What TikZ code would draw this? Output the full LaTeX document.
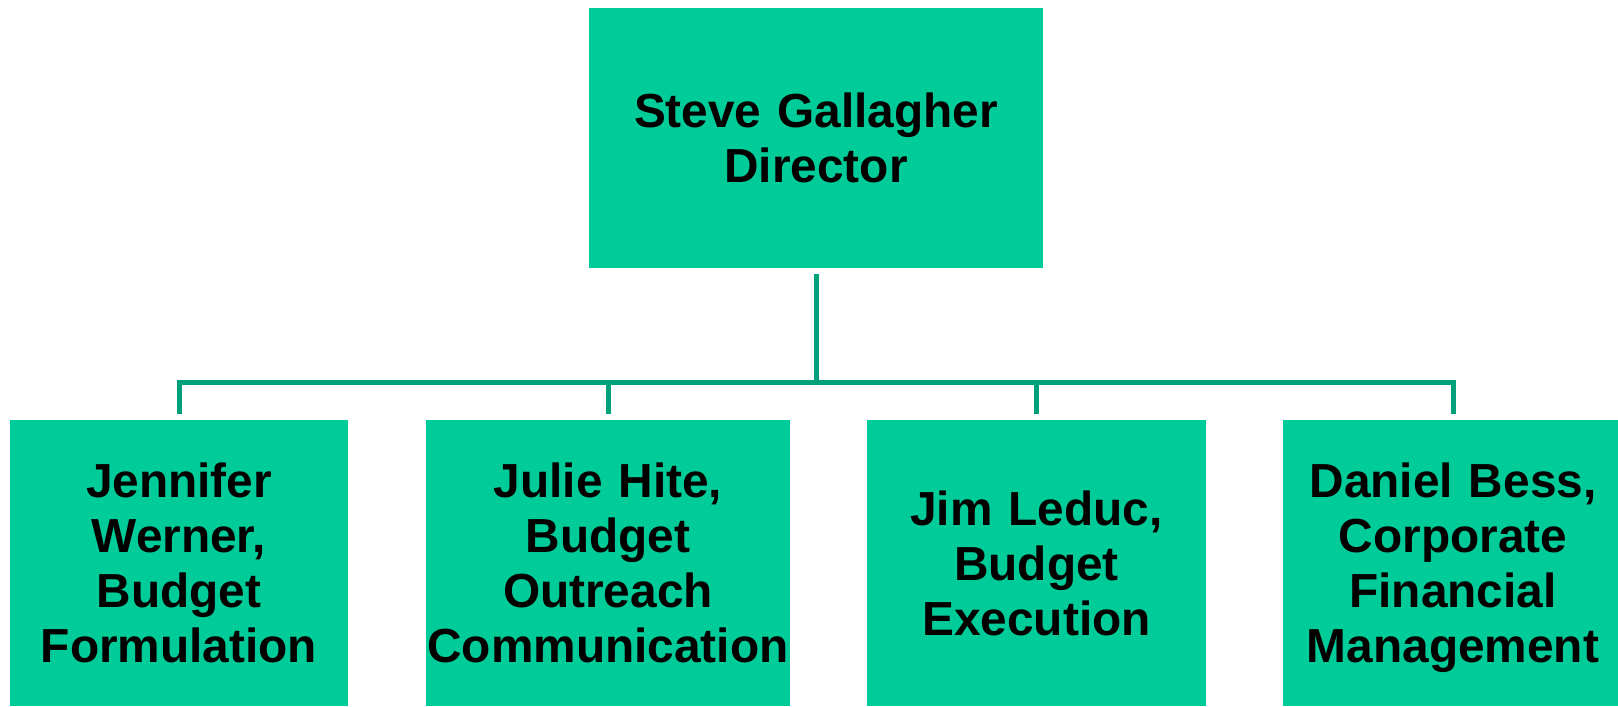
\documentclass[tikz,border=0pt]{standalone}
\usepackage{fontspec}
\setmainfont{Liberation Sans}
\definecolor{boxgreen}{RGB}{0,204,153}
\definecolor{linegreen}{RGB}{0,160,122}
\begin{document}
\begin{tikzpicture}[x=1pt,y=-1pt,
  orgbox/.style={fill=boxgreen, draw=none, inner sep=0pt, align=center,
    minimum height=286pt, font=\fontsize{47.8}{55}\selectfont\bfseries},
  conn/.style={draw=linegreen, line width=5pt}]
\useasboundingbox (0,0) rectangle (1618,707);
\node[orgbox, minimum width=454pt, minimum height=260pt, text width=450pt] (top) at (816,138) {Steve Gallagher\\Director};
\node[orgbox, minimum width=338pt, text width=334pt] (b1) at (179,563) {Jennifer\\Werner,\\Budget\\Formulation};
\node[orgbox, minimum width=364pt, text width=364pt] (b2) at (608,563) {Julie Hite,\\Budget\\Outreach\\Communication};
\node[orgbox, minimum width=339pt, text width=335pt] (b3) at (1036.5,563) {Jim Leduc,\\Budget\\Execution};
\node[orgbox, minimum width=340pt, text width=336pt] (b4) at (1453,563) {Daniel Bess,\\Corporate\\Financial\\\raisebox{0pt}[\height][0pt]{Management}};
\coordinate (bus) at (816,382);
\draw[conn] ([yshift=-6pt]top.south) -- (bus);
\draw[conn] ([yshift=6pt]b1.north) |- (bus) -| ([yshift=6pt]b4.north);
\draw[conn] ([yshift=6pt]b2.north) -- (b2.north |- bus);
\draw[conn] ([yshift=6pt]b3.north) -- (b3.north |- bus);
\end{tikzpicture}
\end{document}
